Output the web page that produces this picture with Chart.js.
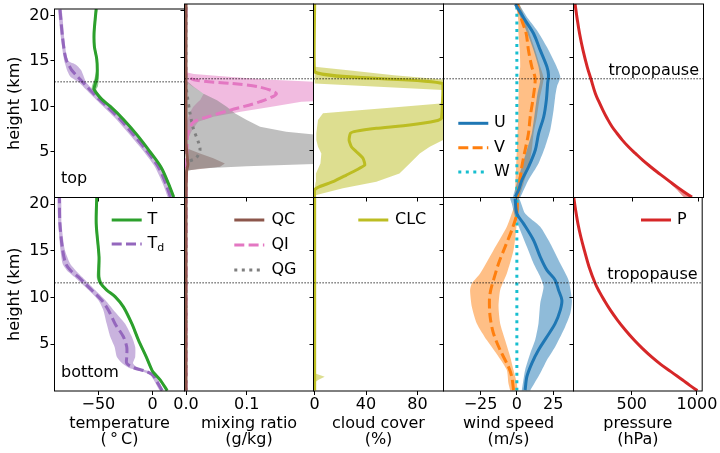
<!DOCTYPE html>
<html>
<head>
<meta charset="utf-8">
<script src="https://cdn.jsdelivr.net/npm/chart.js@4.4.1/dist/chart.umd.min.js"></script>
<style>
  html, body { margin: 0; padding: 0; background: #fff; }
  #wrap { position: relative; width: 720px; height: 453px; }
  #wrap canvas { position: absolute; left: 0; top: 0; }
</style>
</head>
<body>
<div id="wrap"></div>
<script>
// ---------------- profile data (heights in km, bottom to top) ----------------

// "top" row
const tTopH   = [0.05, 1.5, 3.3, 5.1, 6.9, 8.6, 10.0, 10.8, 11.5, 11.9, 12.2, 13.1, 14.0, 15.2, 16.6, 18.0, 19.5, 20.7];
const tTop    = [19.5, 14.8, 8, -2.8, -14.5, -27, -39, -47, -52, -54, -53.5, -51.5, -51, -51.5, -53.7, -54, -53, -52];
const tTopLo  = [18.5, 13.8, 7, -3.8, -15.5, -28, -40, -48.5, -53.5, -56, -56, -53.5, -52, -52.5, -54.7, -55, -54, -53];
const tTopHi  = [20.5, 15.8, 9, -1.8, -13.5, -26, -38, -45.5, -50.5, -52, -50.5, -49.5, -50, -50.5, -52.7, -53, -52, -51];

const tdTopH  = [0.05, 1.5, 3.3, 5.1, 6.9, 8.6, 10.0, 10.8, 11.8, 12.6, 13.3, 14.0, 14.6, 15.0, 15.7, 17.5, 20.7];
const tdTop   = [16.5, 12.3, 5.6, -5.2, -17.6, -30, -42.3, -49.4, -57.7, -63.9, -69.4, -74.7, -77.5, -79.3, -80.9, -83, -85.5];
const tdTopLo = [14, 9.5, 2.5, -8.5, -21, -33.5, -45.5, -52.5, -61, -67.5, -76, -79, -80.5, -81.5, -82.5, -84.5, -87];
const tdTopHi = [18.5, 14.5, 8, -2.5, -14.5, -27, -39.5, -46.5, -54.5, -61, -63.5, -66, -71, -77.5, -79.5, -81.5, -84];

const qcTopH    = [0.05, 2.9, 3.5, 4.2, 5.0, 6.0, 20.7];
const qcTop     = [0, 0.001, 0.003, 0.002, 0.001, 0, 0];
const qcTopBandH  = [2.9, 3.3, 3.65, 4.2, 4.7, 5.25];
const qcTopBandLo = [0, 0, 0, 0, 0, 0];
const qcTopBandHi = [0.002, 0.056, 0.064, 0.045, 0.023, 0.002];

const qiTopH    = [0.05, 6.1, 7.2, 8.1, 8.6, 9.35, 10.25, 11.1, 11.8, 12.2, 12.6, 13.3, 20.7];
const qiTop     = [0, 0.002, 0.0045, 0.013, 0.034, 0.073, 0.122, 0.149, 0.122, 0.075, 0.013, 0, 0];
const qiTopBandH  = [6.1, 7.2, 8.1, 8.64, 9.17, 9.7, 10.24, 10.42, 11.1, 11.8, 12.27, 12.6, 12.9, 13.2, 13.4];
const qiTopBandLo = [0, 0, 0.0016, 0.0043, 0.007, 0.012, 0.02, 0.0234, 0.029, 0.0125, 0.002, 0.001, 0.0005, 0, 0];
const qiTopBandHi = [0.0016, 0.01, 0.02, 0.045, 0.09, 0.141, 0.19, 0.25, 0.25, 0.25, 0.25, 0.14, 0.075, 0.013, 0];

const qgTopH    = [0.05, 2.5, 3.3, 3.8, 4.25, 5.07, 5.8, 7.4, 9.0, 10.95, 12.0, 20.7];
const qgTop     = [0, 0, 0.001, 0.0035, 0.017, 0.023, 0.021, 0.012, 0.0066, 0.002, 0, 0];
const qgTopBandH  = [2.87, 3.1, 3.35, 3.65, 6.5, 7.03, 7.57, 8.28, 8.99, 9.7, 10.4, 11.1, 11.84, 12.55];
const qgTopBandLo = [0, 0, 0, 0, 0, 0, 0, 0, 0, 0, 0, 0, 0, 0];
const qgTopBandHi = [0.0016, 0.023, 0.1, 0.25, 0.25, 0.165, 0.122, 0.1, 0.081, 0.067, 0.051, 0.029, 0.0125, 0.0016];

const clcTopH   = [0.05, 0.8, 1.16, 1.69, 2.4, 2.94, 3.47, 4.18, 4.9, 5.43, 6.14, 6.86, 7.1, 7.4, 7.75, 8.21, 8.46, 12.2, 13.44, 20.7];
const clcTop    = [0, 0, 3.9, 14.3, 24.7, 32.5, 39, 37.7, 32.5, 28.6, 26.8, 27.8, 32.5, 48, 74, 94.8, 98.7, 99.5, 0, 0];
const clcTopBandH  = [0.27, 0.98, 1.69, 2.58, 3.65, 4.72, 5.43, 6.14, 6.86, 8.28, 9.0, 9.35, 9.7, 10.06, 11.49, 11.84, 12.2, 12.63, 13.09, 13.62, 13.98];
const clcTopBandLo = [0, 0, 0.8, 1, 4.5, 5.2, 2.6, 1.3, 1.3, 2.6, 6.5, 37, 68, 98, 100, 50, 0, 0, 0, 0, 0];
const clcTopBandHi = [1.3, 22, 48, 66, 74, 81.8, 89.6, 100, 100, 100, 100, 100, 100, 100, 100, 100, 100, 100, 61.7, 26, 0];

const uTopH   = [0.09, 0.8, 1.87, 3.29, 5.08, 6.86, 8.64, 10.42, 12.2, 13.09, 13.98, 15.76, 17.54, 18.96, 20.67];
const uTop    = [-1.1, 1.2, 3.5, 8.1, 12.7, 15, 18.5, 20.3, 21.2, 21.8, 20.7, 16.1, 11.5, 5.7, -1];
const uTopLoH = [0.05, 1.51, 3.29, 5.08, 6.86, 9.35, 11.13, 12.55, 13.98, 15.76, 17.54, 18.96, 20.7];
const uTopLo  = [-2.8, 0, 3.4, 6.9, 10.3, 12.6, 14.2, 16.1, 14.9, 11.5, 7.3, 3.4, -1.2];
const uTopHiH = [0.05, 1.87, 3.65, 5.43, 7.21, 9.35, 10.77, 11.84, 12.91, 14.33, 16.11, 17.9, 19.32, 20.7];
const uTopHi  = [2.5, 8, 14.9, 19.5, 23, 25.3, 26.4, 27.6, 29.9, 26.4, 20.7, 13.8, 6.9, 1.1];

const vTopH   = [0.09, 1.51, 3.29, 5.08, 6.86, 8.64, 10.42, 12.73, 13.98, 15.76, 17.54, 18.96, 20.67];
const vTop    = [0.4, 1.8, 3.4, 5.7, 8, 9.2, 11, 12.6, 10.3, 8, 6.4, 3.4, 0.4];
const vTopLo  = [-1.2, -1, -0.5, 0, 0.5, 1, 1.1, 1.5, 2.3, 2, 1.1, 1, -0.5];
const vTopHi  = [1.8, 4.6, 8, 10.3, 11.5, 13.8, 15.5, 18.4, 16.1, 12.6, 8.7, 6, 1.8];

const wTopH   = [0.05, 20.7];
const wTop    = [0, 0];

const pTopH   = [0.05, 0.6, 1.16, 1.7, 2.23, 2.75, 3.29, 4.0, 4.72, 5.4, 6.14, 6.85, 7.57, 8.45, 9.35, 10.25, 11.13, 12.7, 13.98, 15.76, 17.54, 19.1, 20.7];
const pTop    = [952, 893, 836, 785, 735, 686, 638, 578, 523, 472, 424, 384, 346, 309, 276, 246, 219, 185, 157, 125, 99, 81, 65];
const pTopBandH  = [0.05, 1.16, 2.23, 3.29];
const pTopBandLo = [890, 815, 728, 632];
const pTopBandHi = [960, 842, 740, 642];

// "bottom" row
const tBotH   = [0.05, 1.2, 1.9, 2.24, 3.67, 5.45, 7.2, 9.0, 10.1, 10.8, 11.5, 12.2, 14.35, 17.9, 20.7];
const tBot    = [13.5, 7, 1.5, -0.6, -5.9, -13, -19.1, -26.9, -34.6, -42.3, -47.8, -49.7, -49.4, -52, -51.5];
const tBotLo  = [12.5, 6, 0.5, -1.6, -6.9, -14, -20.1, -27.9, -35.6, -43.5, -49.5, -51.5, -50.4, -53, -52.5];
const tBotHi  = [14.5, 8, 2.5, 0.4, -4.9, -12, -18.1, -25.9, -33.6, -41, -46, -48, -48.4, -51, -50.5];

const tdBotH  = [0.05, 1.0, 1.7, 2.07, 2.5, 2.96, 3.67, 4.7, 5.8, 7.2, 8.65, 9.7, 10.8, 11.5, 12.2, 12.9, 13.6, 15.1, 17.9, 20.7];
const tdBot   = [8.8, 4, 0.3, -5.2, -17.6, -23.8, -23.8, -23.8, -26.9, -34.6, -40.7, -46.9, -56.2, -62.3, -68.5, -75.6, -80, -83, -85.5, -86];
const tdBotLo = [6.5, 2, -2, -9, -22, -28, -33, -35, -39, -42.3, -45.4, -50, -59, -65.5, -72, -79, -83, -85, -87, -87.5];
const tdBotHi = [10.5, 6, 2.5, -2, -14, -18, -16, -16, -19.1, -25.3, -36, -43.5, -53, -59, -65, -71, -76, -81, -84, -84.5];

const qBotH   = [0.05, 20.7];
const qcBot   = [0, 0];
const qiBot   = [0, 0];
const qgBot   = [0, 0];

const clcBotH = [0.05, 20.7];
const clcBot  = [0, 0];
const clcBotBandH  = [0.9, 1.2, 1.53, 1.9];
const clcBotBandLo = [0, 0, 0, 0];
const clcBotBandHi = [0, 3, 7.8, 0];

const uBotH   = [0.11, 1.53, 2.96, 4.38, 5.8, 7.23, 8.65, 9.72, 10.79, 11.86, 12.93, 14.35, 16.13, 17.91, 18.98, 20.58];
const uBot    = [5.7, 6.9, 10.3, 14.9, 20.7, 26.4, 29.9, 31, 28.7, 26.4, 20.7, 16.1, 11.5, 4.6, 0, -1.2];
const uBotLoH = [0.05, 2.24, 4.02, 5.45, 7.23, 9.37, 11.15, 12.22, 13.64, 15.42, 17.2, 18.63, 20.05, 20.7];
const uBotLo  = [3.4, 5.7, 9.2, 12.6, 14.9, 16.1, 18.4, 16.1, 11.5, 6.9, 2.3, -1.2, -3.5, -4.6];
const uBotHiH = [0.05, 1.89, 3.31, 4.74, 6.52, 8.3, 9.72, 11.86, 13.64, 15.78, 17.56, 18.98, 20.7];
const uBotHi  = [9.2, 16.1, 20.7, 26.4, 32.2, 36.8, 37.9, 35.6, 29.9, 23, 16.1, 5.7, 1.1];

const vBotH   = [0.11, 1.53, 2.6, 4.38, 6.16, 7.94, 9.72, 10.79, 11.86, 13.64, 15.42, 17.2, 18.98, 20.58];
const vBot    = [-2.3, -3.5, -5.8, -11.5, -16.1, -18.4, -18.9, -18, -16.1, -12.6, -8.1, -3.5, 0, 0.4];
const vBotLoH = [0.05, 0.82, 2.24, 3.67, 5.45, 7.23, 9.01, 10.79, 11.5, 12.57, 15.06, 17.56, 20.05, 20.7];
const vBotLo  = [-4.6, -5.8, -6.9, -12.6, -20.7, -27.6, -31, -32.2, -31, -25.3, -16.1, -6.9, -1.2, -0.5];
const vBotHiH = [0.05, 0.82, 2.24, 3.67, 5.45, 7.23, 9.01, 10.79, 12.57, 15.06, 17.2, 20.05, 20.7];
const vBotHi  = [0.4, 0, -2.3, -4.6, -8.1, -11.5, -12.6, -11.5, -6.9, -2.3, -0.5, 1.1, 1.4];

const wBotH   = [0.05, 20.7];
const wBot    = [0, 0];

const pBotH   = [0.05, 0.6, 1.18, 1.6, 2.07, 2.85, 3.67, 4.55, 5.45, 6.5, 7.59, 8.65, 9.72, 10.6, 11.5, 13.3, 15.06, 16.5, 17.9, 19.2, 20.4, 20.7];
const pBot    = [1003, 945, 890, 847, 800, 722, 650, 582, 518, 452, 390, 336, 288, 252, 220, 172, 136, 109, 87, 71, 58, 55];

// tropopause height per row (km)
const tropopause = [12.7, 11.57];

// axes
const heightRange = [0, 20.7];
const heightTicks = [5, 10, 15, 20];
const xRanges = [[-90.5, 29.5], [-0.0025, 0.21], [-0.9, 100.3], [-50.5, 39], [53, 1040]];
const xTicks  = [[-50, 0], [0, 0.1], [0, 40, 80], [-25, 0, 25], [500, 1000]];
const xDecimals = [0, 1, 0, 0, 0];
const xTitles = [['temperature', '(\u2009\u00b0\u2009C)'], ['mixing ratio', '(g/kg)'], ['cloud cover', '(%)'], ['wind speed', '(m/s)'], ['pressure', '(hPa)']];
const rowNames = ['top', 'bottom'];

// ---------------- styling / layout ----------------
const FAMILY = '"DejaVu Sans", sans-serif';
const colors = { T: '#2ca02c', Td: '#9467bd', QC: '#8c564b', QI: '#e377c2', QG: '#7f7f7f',
                 CLC: '#bcbd22', U: '#1f77b4', V: '#ff7f0e', W: '#17becf', P: '#d62728' };
const DASH = [10, 4.3];
const DOT = [3, 4.5];

const colEdges = [54.5, 184.5, 313.5, 443.5, 573.5, 703.5];
const rowEdges = [4, 197.5, 391];
const W = 720, H = 453;

Chart.defaults.font.family = FAMILY;
Chart.defaults.font.size = 16;
Chart.defaults.color = '#000';

function fade(hex, a) {
  const n = parseInt(hex.slice(1), 16);
  return 'rgba(' + (n >> 16) + ',' + ((n >> 8) & 255) + ',' + (n & 255) + ',' + a + ')';
}

function curve(h, x, key, dash, tension) {
  return {
    data: h.map((y, i) => ({ x: x[i], y: y })),
    borderColor: colors[key], borderWidth: 3, borderDash: dash || [],
    tension: tension === undefined ? 0.3 : tension,
    pointRadius: 0, fill: false, order: 1
  };
}

// shaded spread: up the low edge, back down the high edge
function band(loH, lo, hiH, hi, key, tension) {
  const pts = loH.map((y, i) => ({ x: lo[i], y: y }))
    .concat(hiH.map((y, i) => ({ x: hi[i], y: y })).reverse());
  return {
    data: pts, borderColor: 'rgba(0,0,0,0)', borderWidth: 0, tension: tension || 0,
    backgroundColor: fade(colors[key], 0.5), pointRadius: 0, fill: 'shape', order: 2
  };
}

function tropLine(r, c) {
  return {
    data: xRanges[c].map(x => ({ x: x, y: tropopause[r] })),
    borderColor: '#000', borderWidth: 1, borderDash: [1.2, 1.8],
    pointRadius: 0, fill: false, order: 0
  };
}

const panels = [
  [
    [band(tTopH, tTopLo, tTopH, tTopHi, 'T', 0.2), band(tdTopH, tdTopLo, tdTopH, tdTopHi, 'Td', 0.2),
     curve(tTopH, tTop, 'T'), curve(tdTopH, tdTop, 'Td', DASH)],
    [band(qgTopBandH, qgTopBandLo, qgTopBandH, qgTopBandHi, 'QG'),
     band(qcTopBandH, qcTopBandLo, qcTopBandH, qcTopBandHi, 'QC'),
     band(qiTopBandH, qiTopBandLo, qiTopBandH, qiTopBandHi, 'QI'),
     curve(qcTopH, qcTop, 'QC'), curve(qiTopH, qiTop, 'QI', DASH), curve(qgTopH, qgTop, 'QG', DOT)],
    [band(clcTopBandH, clcTopBandLo, clcTopBandH, clcTopBandHi, 'CLC'), curve(clcTopH, clcTop, 'CLC', [], 0.15)],
    [band(uTopLoH, uTopLo, uTopHiH, uTopHi, 'U', 0.2), band(vTopH, vTopLo, vTopH, vTopHi, 'V', 0.2),
     curve(uTopH, uTop, 'U'), curve(vTopH, vTop, 'V', DASH), curve(wTopH, wTop, 'W', DOT)],
    [band(pTopBandH, pTopBandLo, pTopBandH, pTopBandHi, 'P', 0.2), curve(pTopH, pTop, 'P', [], 0.4)]
  ],
  [
    [band(tBotH, tBotLo, tBotH, tBotHi, 'T', 0.2), band(tdBotH, tdBotLo, tdBotH, tdBotHi, 'Td', 0.2),
     curve(tBotH, tBot, 'T'), curve(tdBotH, tdBot, 'Td', DASH)],
    [curve(qBotH, qcBot, 'QC'), curve(qBotH, qiBot, 'QI', DASH), curve(qBotH, qgBot, 'QG', DOT)],
    [band(clcBotBandH, clcBotBandLo, clcBotBandH, clcBotBandHi, 'CLC'), curve(clcBotH, clcBot, 'CLC')],
    [band(uBotLoH, uBotLo, uBotHiH, uBotHi, 'U', 0.2), band(vBotLoH, vBotLo, vBotHiH, vBotHi, 'V', 0.2),
     curve(uBotH, uBot, 'U'), curve(vBotH, vBot, 'V', DASH), curve(wBotH, wBot, 'W', DOT)],
    [curve(pBotH, pBot, 'P', [], 0.4)]
  ]
];

// legend boxes: where the sample line starts, where text starts, first row y
const legends = {
  '1-0': { lineX: 111.7, textX: 147.5, y: 220, step: 24,
           items: [{ label: 'T', key: 'T' }, { label: 'T', sub: 'd', key: 'Td', dash: DASH }] },
  '1-1': { lineX: 234.3, textX: 271.5, y: 220, step: 25,
           items: [{ label: 'QC', key: 'QC' }, { label: 'QI', key: 'QI', dash: DASH }, { label: 'QG', key: 'QG', dash: DOT }] },
  '1-2': { lineX: 358.3, textX: 395, y: 220, step: 25, items: [{ label: 'CLC', key: 'CLC' }] },
  '0-3': { lineX: 458.3, textX: 494, y: 123.3, step: 24.4,
           items: [{ label: 'U', key: 'U' }, { label: 'V', key: 'V', dash: DASH }, { label: 'W', key: 'W', dash: DOT }] },
  '1-4': { lineX: 641, textX: 677, y: 220, step: 25, items: [{ label: 'P', key: 'P' }] }
};

const decor = {
  id: 'decor',
  afterDraw(chart, args, opts) {
    const ctx = chart.ctx, a = chart.chartArea;
    ctx.save();
    ctx.strokeStyle = '#000';
    ctx.lineWidth = 1;
    ctx.strokeRect(a.left, a.top, a.right - a.left, a.bottom - a.top);
    ctx.fillStyle = '#000';
    ctx.font = '16px ' + FAMILY;

    if (opts.name) {
      ctx.textAlign = 'left';
      ctx.textBaseline = 'alphabetic';
      ctx.fillText(opts.name, a.left + 6.5, a.bottom - 14.2);
    }
    if (opts.trop) {
      const y = chart.scales.y.getPixelForValue(opts.trop);
      ctx.textAlign = 'right';
      ctx.textBaseline = 'alphabetic';
      ctx.fillText('tropopause', a.right - 4.5, y - 3.5);
    }
    const lg = opts.legend;
    if (lg) {
      lg.items.forEach((it, i) => {
        const y = lg.y + i * lg.step;
        ctx.strokeStyle = colors[it.key];
        ctx.lineWidth = 3;
        ctx.setLineDash(it.dash || []);
        ctx.beginPath();
        ctx.moveTo(lg.lineX, y);
        ctx.lineTo(lg.lineX + 30, y);
        ctx.stroke();
        ctx.setLineDash([]);
        ctx.font = '16px ' + FAMILY;
        ctx.textAlign = 'left';
        ctx.textBaseline = 'middle';
        ctx.fillText(it.label, lg.textX, y);
        if (it.sub) {
          const w = ctx.measureText(it.label).width;
          ctx.font = '11px ' + FAMILY;
          ctx.fillText(it.sub, lg.textX + w, y + 4.5);
        }
      });
    }
    ctx.restore();
  }
};

function fmtTick(c) {
  return v => {
    const s = Math.abs(v).toFixed(xDecimals[c]);
    return v < 0 ? '\u2212' + s : s;
  };
}

const wrap = document.getElementById('wrap');
for (let r = 0; r < 2; r++) {
  for (let c = 0; c < 5; c++) {
    const cv = document.createElement('canvas');
    cv.width = W; cv.height = H;
    wrap.appendChild(cv);
    const xh = r === 1 ? 62 : 0;
    const yw = c === 0 ? colEdges[0] : 0;
    new Chart(cv, {
      type: 'line',
      data: { datasets: [tropLine(r, c)].concat(panels[r][c]) },
      options: {
        responsive: false, animation: false, devicePixelRatio: 1,
        layout: { padding: { left: colEdges[c] - yw, right: W - colEdges[c + 1], top: rowEdges[r], bottom: H - rowEdges[r + 1] - xh } },
        plugins: {
          legend: { display: false }, tooltip: { enabled: false },
          decor: { name: c === 0 ? rowNames[r] : null, trop: c === 4 ? tropopause[r] : null, legend: legends[r + '-' + c] }
        },
        scales: {
          x: {
            type: 'linear', position: 'bottom', min: xRanges[c][0], max: xRanges[c][1],
            afterBuildTicks: s => { s.ticks = xTicks[c].map(v => ({ value: v })); },
            afterFit: s => { s.height = xh; },
            ticks: { display: r === 1, autoSkip: false, maxRotation: 0, padding: 2, color: '#000',
                     font: { size: 16, lineHeight: 1 }, callback: fmtTick(c) },
            grid: { drawOnChartArea: false, drawTicks: true, tickLength: 4, tickColor: '#000', tickWidth: 1 },
            border: { display: false },
            title: { display: r === 1, text: xTitles[c], color: '#000', font: { size: 16, lineHeight: 1 },
                     padding: { top: 0, bottom: 5 } }
          },
          y: {
            type: 'linear', position: 'left', min: heightRange[0], max: heightRange[1],
            afterBuildTicks: s => { s.ticks = heightTicks.map(v => ({ value: v })); },
            afterFit: s => { s.width = yw; },
            ticks: { display: c === 0, padding: 1, color: '#000', font: { size: 16, lineHeight: 1 } },
            grid: { drawOnChartArea: false, drawTicks: true, tickLength: 4, tickColor: '#000', tickWidth: 1 },
            border: { display: false },
            title: { display: c === 0, text: 'height (km)', color: '#000', font: { size: 16, lineHeight: 1 },
                     padding: { top: 7, bottom: 0 } }
          }
        }
      },
      plugins: [decor]
    });
  }
}
</script>
</body>
</html>
